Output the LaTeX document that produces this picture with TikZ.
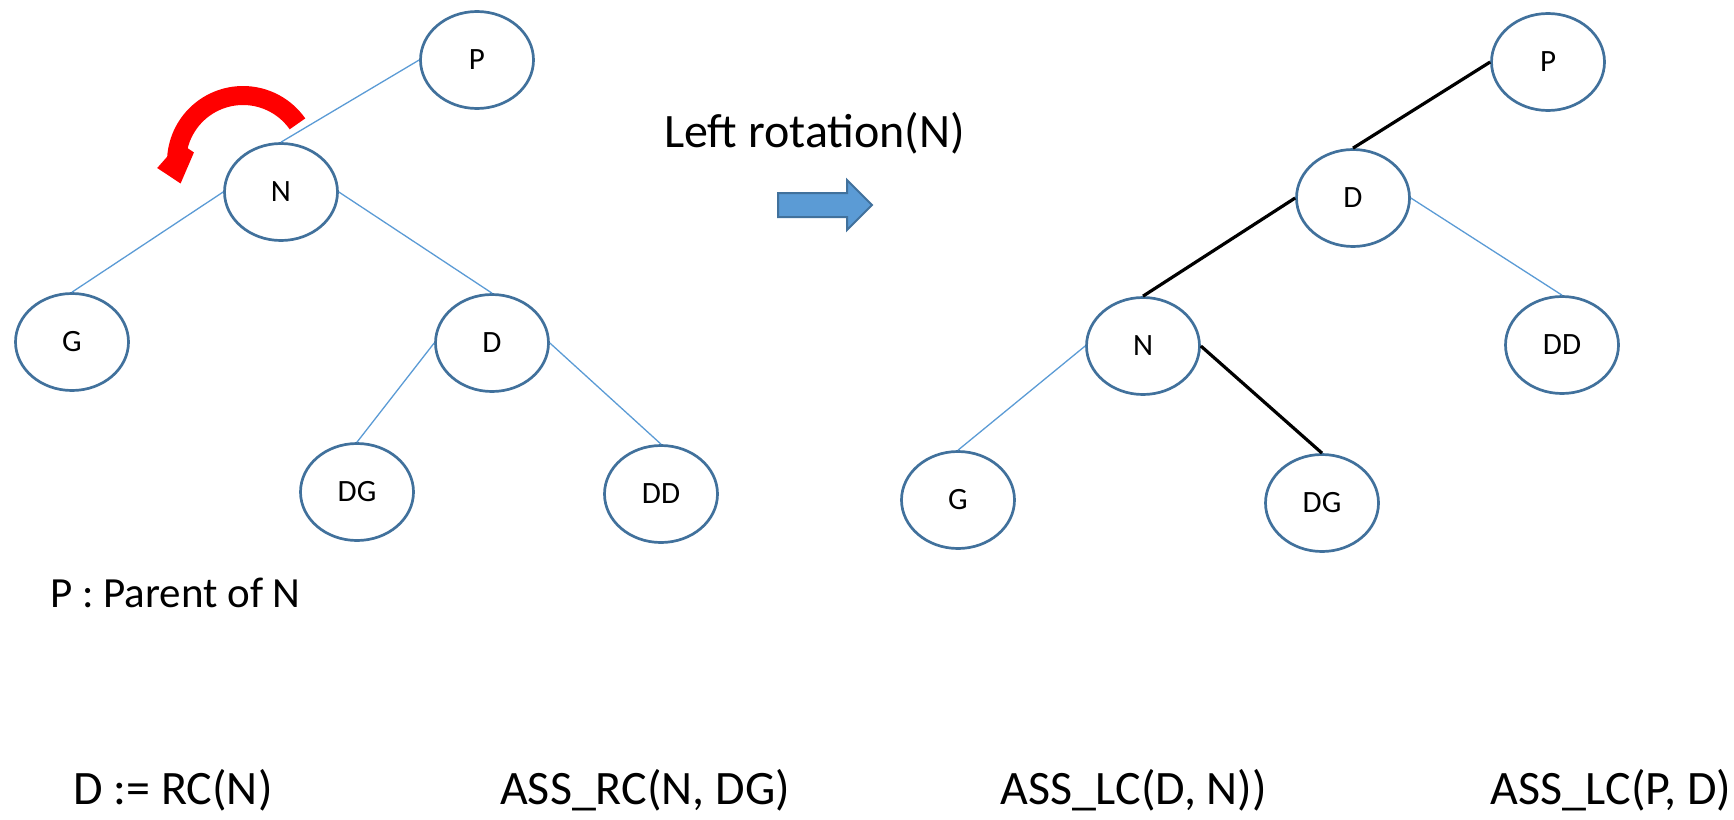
\documentclass[tikz,border=0pt]{standalone}
\usepackage{fontspec}
\setmainfont{Carlito}
\usetikzlibrary{shapes.geometric}
\definecolor{nodeline}{HTML}{41719C}
\definecolor{thinedge}{HTML}{5B9BD5}
\definecolor{blockfill}{HTML}{5B9BD5}
\tikzset{
  tnode/.style={ellipse, draw=nodeline, line width=2.7pt, fill=white,
    minimum width=113pt, minimum height=97pt, inner sep=0pt,
    font=\fontsize{31}{31}\selectfont},
  thin edge/.style={draw=thinedge, line width=1.3pt},
  bold edge/.style={draw=black, line width=3.2pt},
  bigtext/.style={anchor=base west, inner sep=0pt, font=\fontsize{48}{48}\selectfont},
}
\begin{document}
\begin{tikzpicture}[x=1pt, y=-1pt]
  \useasboundingbox (0,0) rectangle (1734,819);

  % tree before the rotation
  \node[tnode] (lP)  at (477,60)  {P};
  \node[tnode] (lN)  at (281,192) {N};
  \node[tnode] (lG)  at (72,342)  {G};
  \node[tnode] (lD)  at (492,343) {D};
  \node[tnode] (lDG) at (357,492) {DG};
  \node[tnode] (lDD) at (661,494) {DD};
  \draw[thin edge] (lP.west) -- (lN.north);
  \draw[thin edge] (lN.west) -- (lG.north);
  \draw[thin edge] (lN.east) -- (lD.north);
  \draw[thin edge] (lD.west) -- (lDG.north);
  \draw[thin edge] (lD.east) -- (lDD.north);

  % rotation sense marker
  \begin{scope}[shift={(243,162)}]
    \fill[red] plot[domain=-35:-176, samples=50] (\x:76)
      -- (-184:86) -- (-199:66) -- (-169:50) -- (-166:57)
      -- plot[domain=-166:-35, samples=50] (\x:57) -- cycle;
  \end{scope}

  % operation label and block arrow
  \node[anchor=base west, inner sep=0pt, font=\fontsize{48}{48}\selectfont]
    (op) at (664,147) {Left rotation(N)};
  \draw[draw=nodeline, fill=blockfill, line width=2pt]
    (778,193) -- (847,193) -- (847,180) -- (872,205) -- (847,230) -- (847,217) -- (778,217) -- cycle;

  % tree after the rotation
  \node[tnode] (rP)  at (1548,62)  {P};
  \node[tnode] (rD)  at (1353,198) {D};
  \node[tnode] (rDD) at (1562,345) {DD};
  \node[tnode] (rN)  at (1143,346) {N};
  \node[tnode] (rG)  at (958,500)  {G};
  \node[tnode] (rDG) at (1322,503) {DG};
  \draw[bold edge] (rP.west) -- (rD.north);
  \draw[bold edge] (rD.west) -- (rN.north);
  \draw[thin edge] (rD.east) -- (rDD.north);
  \draw[thin edge] (rN.west) -- (rG.north);
  \draw[bold edge] (rN.east) -- (rDG.north);

  % notes
  \node[anchor=base west, inner sep=0pt, font=\fontsize{43}{43}\selectfont]
    (note) at (50,607) {P : Parent of N};
  \node[bigtext] (s1) at (73,804)   {D := RC(N)};
  \node[bigtext] (s2) at (500,804)  {ASS\_RC(N, DG)};
  \node[bigtext] (s3) at (1000,804) {ASS\_LC(D, N))};
  \node[bigtext] (s4) at (1490,804) {ASS\_LC(P, D)};
\end{tikzpicture}
\end{document}
